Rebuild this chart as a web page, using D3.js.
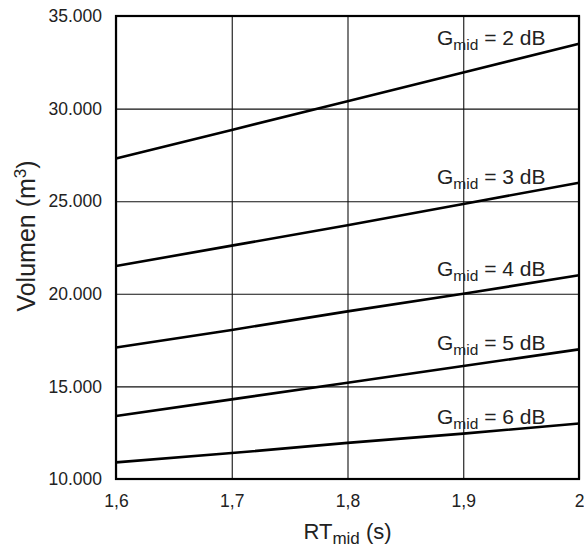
<!DOCTYPE html>
<html>
<head>
<meta charset="utf-8">
<script src="https://cdn.jsdelivr.net/npm/d3@7"></script>
<style>
  body { margin: 0; background: #fff; }
  svg text { font-family: "Liberation Sans", Arial, sans-serif; fill: #222; }
</style>
</head>
<body>
<svg id="chart" width="584" height="548"></svg>
<script>
// x categories (RT mid in seconds)
var rtValues = [1.6, 1.7, 1.8, 1.9, 2.0];
// volume for each Gmid curve, read at each RT value
var gmid2 = [27300, 28850, 30400, 31950, 33500];
var gmid3 = [21500, 22600, 23700, 24850, 26000];
var gmid4 = [17100, 18050, 19050, 20000, 21000];
var gmid5 = [13400, 14300, 15200, 16100, 17000];
var gmid6 = [10900, 11400, 11950, 12450, 13000];
var gmidLabels = ["2", "3", "4", "5", "6"];
var yTicks = [10000, 15000, 20000, 25000, 30000, 35000];

var series = [gmid2, gmid3, gmid4, gmid5, gmid6];

var svg = d3.select("#chart");
// plot box (don't use "top", it's window.top)
var plotL = 116, plotR = 579, plotT = 16, plotB = 479;
var w = plotR - plotL, h = plotB - plotT;

// comma decimals, dot thousands
var loc = d3.formatLocale({decimal: ",", thousands: ".", grouping: [3], currency: ["", ""]});

var x = d3.scaleLinear().domain([1.6, 2.0]).range([plotL, plotR]);
var y = d3.scaleLinear().domain([10000, 35000]).range([plotB, plotT]);

// Grid + tick labels
var xAxis = svg.append("g").attr("transform", "translate(0," + plotB + ")")
    .call(d3.axisBottom(x).tickValues(rtValues).tickSize(-h).tickPadding(16).tickFormat(loc.format("~g")));
var yAxis = svg.append("g").attr("transform", "translate(" + plotL + ",0)")
    .call(d3.axisLeft(y).tickValues(yTicks).tickSize(-w).tickPadding(14).tickFormat(loc.format(",.0f")));
[xAxis, yAxis].forEach(function(a) {
    a.select(".domain").remove();
    a.selectAll(".tick line").attr("stroke", "#111").attr("stroke-width", 1.1);
    a.selectAll(".tick text").style("font-size", "17.5px").attr("fill", "#222");
});

// frame
svg.append("rect").attr("x", plotL).attr("y", plotT).attr("width", w).attr("height", h)
    .attr("fill", "none").attr("stroke", "#000").attr("stroke-width", 2.2);

// curves
var line = d3.line().x(function(d, i) { return x(rtValues[i]); }).y(function(d) { return y(d); });
series.forEach(function(s, k) {
    svg.append("path").datum(s).attr("d", line)
        .attr("fill", "none").attr("stroke", "#000").attr("stroke-width", 2.6);
    // label above the right end
    var t = svg.append("text").attr("x", 437).attr("y", y(s[s.length - 1]) + 1)
        .style("font-size", "21px");
    t.append("tspan").text("G");
    t.append("tspan").text("mid").attr("dy", 5).style("font-size", "15.5px");
    t.append("tspan").text(" = " + gmidLabels[k] + " dB").attr("dy", -5);
});

// axis titles
var xt = svg.append("text").attr("x", (plotL + plotR) / 2).attr("y", 539)
    .attr("text-anchor", "middle").style("font-size", "22px");
xt.append("tspan").text("RT");
xt.append("tspan").text("mid").attr("dy", 5).style("font-size", "17px");
xt.append("tspan").text(" (s)").attr("dy", -5);

var yt = svg.append("text").attr("transform", "translate(35,236) rotate(-90)")
    .attr("text-anchor", "middle").style("font-size", "25px");
yt.append("tspan").text("Volumen (m");
yt.append("tspan").text("3").attr("dy", -9).style("font-size", "17px");
yt.append("tspan").text(")").attr("dy", 9);
</script>
</body>
</html>
